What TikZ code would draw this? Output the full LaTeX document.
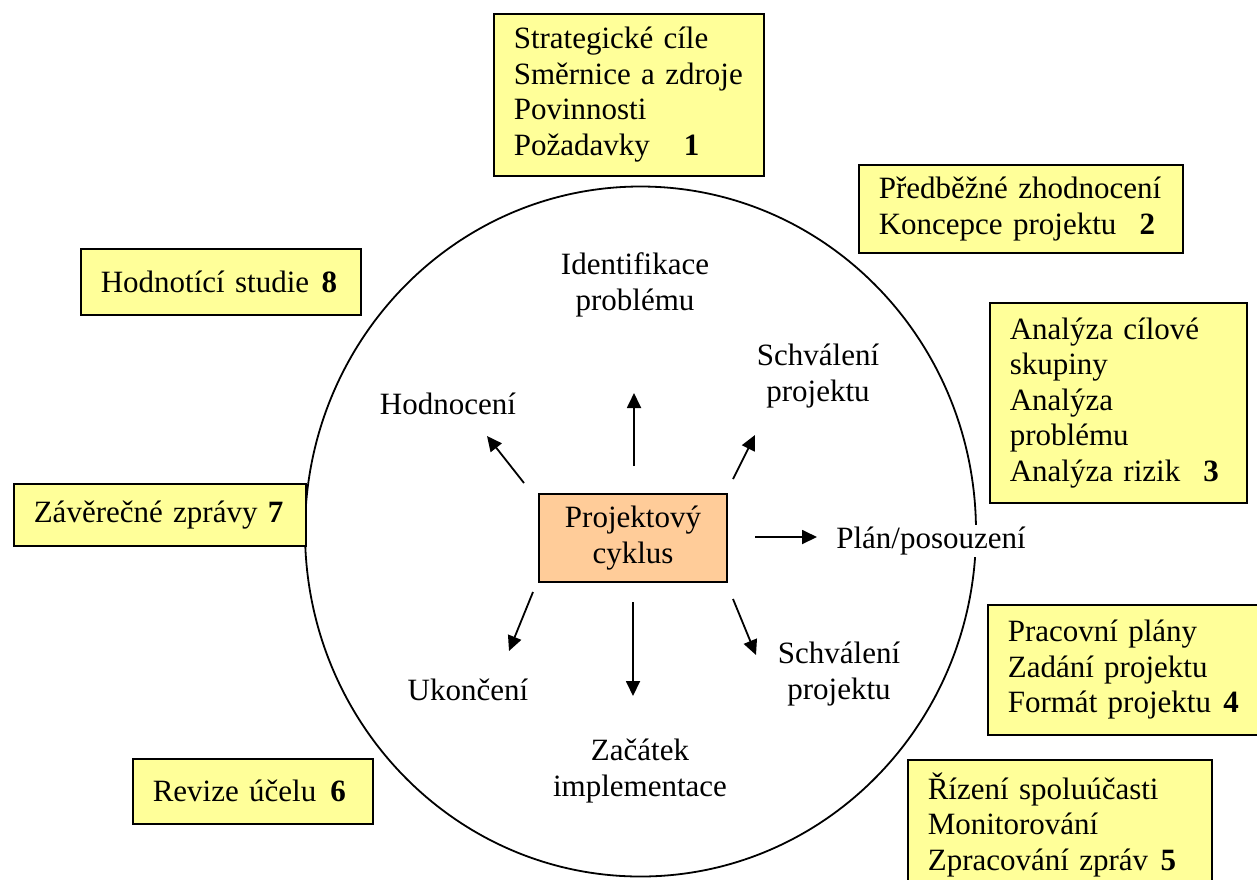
\documentclass[tikz,border=0pt]{standalone}
\usepackage{fontspec}
\setmainfont{Liberation Serif}
\usetikzlibrary{arrows.meta}
\definecolor{box-yellow}{RGB}{255,255,153}
\definecolor{box-orange}{RGB}{255,204,153}

\begin{document}
\begin{tikzpicture}[x=1pt,y=-1pt,font=\fontsize{31}{35.5}\selectfont,
    ybox/.style={draw=black, fill=box-yellow, line width=1.6pt, align=left,
        inner xsep=20pt, inner ysep=0pt, anchor=north west},
    label/.style={align=center, inner sep=0pt},
    arr/.style={line width=1.8pt, -{Triangle[length=15pt,width=14pt]}}]
\useasboundingbox (0,0) rectangle (1257,879);
% the big circle
\draw[line width=1.8pt] (640.5,531.5) ellipse [x radius=335.5, y radius=345];
% boxes round the circle
\node[ybox, text width=230pt, minimum height=162pt] (b1) at (493,13)
    {Strategické cíle\\Směrnice a zdroje\\Povinnosti\\\mbox{Požadavky\hspace{1.1em}\textbf{1}}};
\node[ybox, text width=284pt, minimum height=88pt] (b2) at (858,164)
    {Předběžné zhodnocení\\\mbox{Koncepce projektu\hspace{0.75em}\textbf{2}}};
\node[ybox, text width=217pt, minimum height=200pt] (b3) at (989,302)
    {Analýza cílové\\skupiny\\Analýza\\problému\\\mbox{Analýza rizik\hspace{0.75em}\textbf{3}}};
\node[ybox, text width=230pt, minimum height=130pt] (b4) at (987,604)
    {Pracovní plány\\Zadání projektu\\\mbox{Formát projektu\hspace{0.4em}\textbf{4}}};
\node[ybox, text width=264pt, minimum height=130pt] (b5) at (907,759)
    {Řízení spoluúčasti\\Monitorování\\\mbox{Zpracování zpráv\hspace{0.4em}\textbf{5}}};
\node[ybox, text width=200pt, minimum height=65pt] (b6) at (132,758)
    {\mbox{Revize účelu\hspace{0.45em}\textbf{6}}};
\node[ybox, text width=252pt, minimum height=62pt] (b7) at (13,483)
    {\mbox{Závěrečné zprávy \textbf{7}}};
\node[ybox, text width=240pt, minimum height=66pt] (b8) at (80,248)
    {\mbox{Hodnotící studie\hspace{0.4em}\textbf{8}}};
% centre
\node[draw=black, fill=box-orange, line width=1.6pt, align=center, inner sep=0pt,
    minimum width=188pt, minimum height=88pt] (cyklus) at (633,538) {Projektový\\cyklus};
% phases
\node[label] (ident) at (635,285) {Identifikace\\problému};
\node[label] (schv1) at (818,376) {Schválení\\projektu};
\node[label] (hodn) at (448,404) {Hodnocení};
\node[label, fill=white, inner sep=2pt] (plan) at (931,541) {Plán/posouzení};
\node[label] (schv2) at (839,674) {Schválení\\projektu};
\node[label] (ukon) at (468,690) {Ukončení};
\node[label] (zacat) at (640,771) {Začátek\\implementace};
% arrows
\coordinate (a1s) at (634,466); \coordinate (a1e) at (634,393);
\coordinate (a2s) at (733,479); \coordinate (a2e) at (755,435);
\coordinate (a3s) at (524,483); \coordinate (a3e) at (487,436);
\coordinate (a4s) at (755,537); \coordinate (a4e) at (817,537);
\coordinate (a5s) at (533,592); \coordinate (a5e) at (509,651);
\coordinate (a6s) at (633,602); \coordinate (a6e) at (633,696);
\coordinate (a7s) at (733,599); \coordinate (a7e) at (756,655);
\draw[arr] (a1s) -- (a1e);
\draw[arr] (a2s) -- (a2e);
\draw[arr] (a3s) -- (a3e);
\draw[arr] (a4s) -- (a4e);
\draw[arr] (a5s) -- (a5e);
\draw[arr] (a6s) -- (a6e);
\draw[arr] (a7s) -- (a7e);
\end{tikzpicture}
\end{document}
